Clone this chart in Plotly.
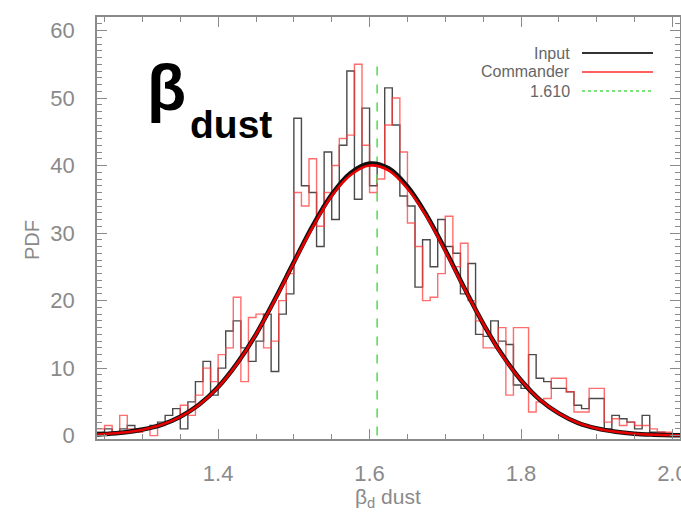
import numpy as np
import plotly.graph_objects as go

# ---------------- data ----------------
BIN_START = 1.24
BIN_WIDTH = 0.01
# Histogram heights per 0.01-wide bin, starting at 1.24
input_hist = [0.5, 1, 0.5, 1, 1.5, 1, 1, 1.5, 2, 3,
              4, 1, 5, 8, 11, 6, 10, 15.5, 17, 13,
              11, 14, 18, 9.5, 18, 21, 47, 37, 36, 28,
              42, 32, 43, 54, 35, 48.5, 37, 40, 51.5, 46,
              35.5, 34, 22, 29, 25, 32, 28, 27, 21, 25.5,
              15, 14.7, 17, 14, 13.5, 7.5, 7, 12, 8.5, 8,
              7, 7, 6.5, 4.5, 4, 5.5, 5.5, 1, 3, 2.5,
              2, 1, 3, 0.5, 0.5, 0, 0]
commander_hist = [1, 1.5, 0.5, 3, 1, 0.5, 1, 0, 1.5, 2,
                  2.5, 4.5, 3, 6, 10, 8, 12, 13, 20.5, 8,
                  17.5, 18, 13, 14, 20, 24, 36, 34, 41, 31,
                  36, 40, 44, 44.5, 55, 43, 36, 38, 46, 50,
                  42, 31.5, 28, 20, 20.5, 24, 32.5, 25, 28.5, 20,
                  17, 13, 13, 16, 6, 16, 16, 3.5, 5, 5.5,
                  8.5, 8.5, 6.5, 3.5, 3.5, 7, 7, 2, 2.5, 1.5,
                  2, 1.5, 1.5, 1, 0.5, 0.5, 0]

# Gaussian fit curves, values read at 0.025 steps
fit_x = [1.24, 1.25, 1.275, 1.30, 1.325, 1.35, 1.375, 1.40, 1.425, 1.45,
         1.475, 1.50, 1.525, 1.55, 1.575, 1.60, 1.625, 1.65, 1.675, 1.70,
         1.725, 1.75, 1.775, 1.80, 1.825, 1.85, 1.875, 1.90, 1.925, 1.95,
         1.975, 2.00, 2.01]
input_fit = [0.17, 0.23, 0.46, 0.9, 1.6, 2.8, 4.6, 7.2, 10.7, 15.0,
             20.2, 25.7, 31.1, 35.7, 38.9, 40.3, 39.6, 36.9, 32.7, 27.5,
             21.9, 16.6, 12.0, 8.2, 5.3, 3.3, 1.9, 1.07, 0.57, 0.28,
             0.14, 0.06, 0.05]
commander_fit = [0.17, 0.23, 0.46, 0.88, 1.6, 2.78, 4.58, 7.16, 10.64, 15.0,
                 20.1, 25.6, 30.9, 35.5, 38.6, 40.0, 39.3, 36.6, 32.5, 27.3,
                 21.8, 16.6, 11.9, 8.2, 5.3, 3.3, 1.9, 1.07, 0.57, 0.28,
                 0.14, 0.06, 0.05]

ref_value = 1.610
ref_line_y = [0, 55.5]

x_ticks = [1.4, 1.6, 1.8, 2.0]
x_tick_text = ["1.4", "1.6", "1.8", "2.0"]
y_ticks = [0, 10, 20, 30, 40, 50, 60]
y_tick_text = ["0", "10", "20", "30", "40", "50", "60"]

legend_labels = ["Input", "Commander", "1.610"]

# ---------------- figure ----------------
FONT = "Liberation Sans, Arial, sans-serif"
GRAY = "#8a8a8a"
BLACK_H = "#4a4a4a"
RED_H = "rgba(255,60,60,0.75)"
GREEN = "#4fdc4f"

def step_xy(values):
    edges = BIN_START + BIN_WIDTH * np.arange(len(values) + 1)
    return edges, list(values) + [values[-1]]

fig = go.Figure()

ex, ey = step_xy(input_hist)
fig.add_trace(go.Scatter(x=ex, y=ey, mode="lines", line_shape="hv",
                         line=dict(color=BLACK_H, width=1.4), showlegend=False))
ex, ey = step_xy(commander_hist)
fig.add_trace(go.Scatter(x=ex, y=ey, mode="lines", line_shape="hv",
                         line=dict(color=RED_H, width=1.4), showlegend=False))

fig.add_trace(go.Scatter(x=[ref_value, ref_value], y=ref_line_y, mode="lines",
                         line=dict(color=GREEN, width=1.5, dash="dash"),
                         showlegend=False))

fig.add_trace(go.Scatter(x=fit_x, y=input_fit, mode="lines", line_shape="spline",
                         line=dict(color="#111111", width=4.5), showlegend=False))
fig.add_trace(go.Scatter(x=fit_x, y=commander_fit, mode="lines", line_shape="spline",
                         line=dict(color="#e80000", width=2.6), showlegend=False))

axis_common = dict(
    showline=True, linecolor=GRAY, linewidth=1.5, mirror="allticks",
    ticks="inside", ticklen=10, tickwidth=1.2, tickcolor=GRAY,
    showgrid=False, zeroline=False, automargin=False,
    tickfont=dict(family=FONT, size=22, color=GRAY),
)

fig.update_layout(
    width=681, height=514,
    margin=dict(l=97, r=1, t=17, b=75),
    paper_bgcolor="white", plot_bgcolor="white",
    showlegend=False,
    xaxis=dict(range=[1.24, 2.01], tickvals=x_ticks, ticktext=x_tick_text,
               ticklabelstandoff=14, ticklabeloverflow="allow",
               minor=dict(ticks="inside", ticklen=5, tickcolor=GRAY, dtick=0.05,
                          tick0=1.25, showgrid=False),
               **axis_common),
    yaxis=dict(range=[-0.5, 62], tickvals=y_ticks, ticktext=y_tick_text,
               ticklabelstandoff=16,
               minor=dict(ticks="inside", ticklen=5, tickcolor=GRAY, dtick=1,
                          tick0=0, showgrid=False),
               **axis_common),
)

annotations = [
    dict(text="PDF", x=32, y=240, xref="paper", yref="paper", textangle=-90,
         font=dict(family=FONT, size=20, color=GRAY)),
    dict(text="β<sub>d</sub> dust", x=388, y=498, xref="paper", yref="paper",
         font=dict(family=FONT, size=21, color=GRAY)),
    dict(text="<b>β</b>", x=166, y=88, xref="paper", yref="paper",
         font=dict(family=FONT, size=64, color="black")),
    dict(text="<b>dust</b>", x=231, y=124, xref="paper", yref="paper",
         font=dict(family=FONT, size=39, color="black")),
]
legend_y = [53, 72, 91]
legend_colors = ["#333333", "#ff6060", GREEN]
legend_dash = ["solid", "solid", "dot"]
for lab, yy in zip(legend_labels, legend_y):
    annotations.append(dict(text=lab, x=572, y=yy, xref="paper", yref="paper",
                            xanchor="right", font=dict(family=FONT, size=16, color="#666666")))

# convert pixel-based annotation positions to paper fractions
W, H = 681, 514
L, R, T, B = 97, 1, 17, 75
pw, ph = W - L - R, H - T - B
for a in annotations:
    a["x"] = (a["x"] - L) / pw
    a["y"] = (H - B - a["y"]) / ph
    a.setdefault("showarrow", False)
    a.setdefault("yanchor", "middle")
    a.setdefault("xanchor", "center")
fig.update_layout(annotations=annotations)

shapes = []
for yy, col, dsh in zip(legend_y, legend_colors, legend_dash):
    yp = (H - B - yy) / ph
    shapes.append(dict(type="line", xref="paper", yref="paper",
                       x0=(582 - L) / pw, x1=(653 - L) / pw, y0=yp, y1=yp,
                       line=dict(color=col, width=2 if dsh == "solid" else 1.5, dash=dsh)))
fig.update_layout(shapes=shapes)

fig.write_html("out.html")
